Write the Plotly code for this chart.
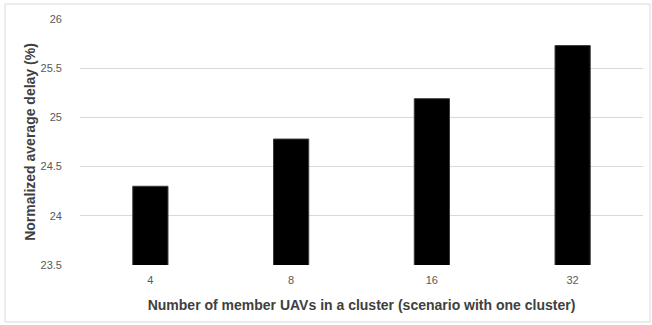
import plotly.graph_objects as go

# Cluster sizes and the resulting normalized average delay
cluster_sizes = ["4", "8", "16", "32"]
avg_delay_pct = [24.30, 24.78, 25.19, 25.73]

y_ticks = [23.5, 24, 24.5, 25, 25.5, 26]
y_tick_text = ["23.5", "24", "24.5", "25", "25.5", "26"]

W, H = 652, 325
L, R, T, B = 80, 9, 19, 60
pw, ph = W - L - R, H - T - B

fig = go.Figure(
    go.Bar(
        x=cluster_sizes,
        y=avg_delay_pct,
        marker=dict(color="#000000", line=dict(color="#3a3a3a", width=1)),
        width=0.25,
    )
)

# outer chart-area frame
fig.add_shape(
    type="rect", xref="paper", yref="paper",
    x0=(5 - L) / pw, x1=(650 - L) / pw,
    y0=(T + ph - 322) / ph, y1=(T + ph - 4) / ph,
    line=dict(color="#d9d9d9", width=1), fillcolor="rgba(0,0,0,0)", layer="below",
)

fig.update_layout(
    width=W, height=H,
    margin=dict(l=L, r=R, t=T, b=B),
    paper_bgcolor="white", plot_bgcolor="white",
    font=dict(family="Liberation Sans, Arial, sans-serif", color="#595959"),
    showlegend=False,
    xaxis=dict(
        type="category",
        showgrid=False,
        showline=False,
        ticks="",
        ticklabelstandoff=7,
        tickfont=dict(size=11, color="#595959"),
        title=dict(
            text="<b>Number of member UAVs in a cluster (scenario with one cluster)</b>",
            font=dict(size=14, color="#404040"),
            standoff=15,
        ),
    ),
    yaxis=dict(
        range=[23.5, 26],
        tickvals=y_ticks,
        ticktext=y_tick_text,
        showgrid=True,
        gridcolor="#d9d9d9",
        gridwidth=1,
        zeroline=False,
        showline=False,
        ticks="",
        ticklabelstandoff=17,
        tickfont=dict(size=11, color="#595959"),
        title=dict(
            text="<b>Normalized average delay (%)</b>",
            font=dict(size=14, color="#404040"),
            standoff=1,
        ),
    ),
)

fig.write_html("out.html")
